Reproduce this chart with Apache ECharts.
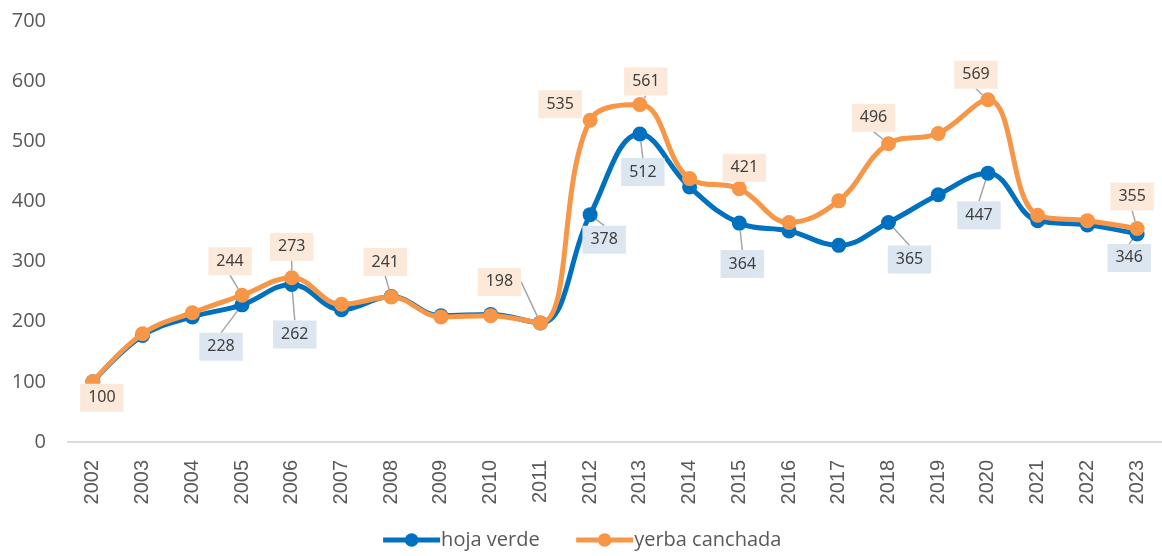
<!DOCTYPE html>
<html>
<head>
<meta charset="utf-8">
<script src="https://cdn.jsdelivr.net/npm/echarts@6/dist/echarts.min.js"></script>
<style>
  html, body { margin: 0; padding: 0; background: #fff; }
  #chart { width: 1162px; height: 556px; }
</style>
</head>
<body>
<div id="chart"></div>
<script>
var years = ['2002', '2003', '2004', '2005', '2006', '2007', '2008', '2009', '2010', '2011', '2012',
             '2013', '2014', '2015', '2016', '2017', '2018', '2019', '2020', '2021', '2022', '2023'];
var hojaVerde = [100, 177, 208, 228, 262, 220, 242, 210, 212, 198, 378,
                 512, 424, 364, 351, 327, 365, 411, 447, 368, 361, 346];
var yerbaCanchada = [100, 180, 215, 244, 273, 229, 241, 208, 210, 198, 535,
                     561, 438, 421, 365, 401, 496, 513, 569, 377, 368, 355];
var yTicks = [0, 100, 200, 300, 400, 500, 600, 700];

// which points carry a value label
var hojaLabeled = ['2005', '2006', '2012', '2013', '2015', '2018', '2020', '2023'];
var yerbaLabeled = ['2002', '2005', '2006', '2008', '2011', '2012', '2013', '2015', '2018', '2020', '2023'];

/* label offsets from the point (layout only) */
var hojaOffset = {
    '2005': [-21, 42], '2006': [3, 50], '2012': [14, 25], '2013': [3, 38],
    '2015': [3, 41], '2018': [21, 37], '2020': [-9, 42], '2023': [-8, 24]
};
var yerbaOffset = {
    '2002': [9, 16], '2005': [-12, -34], '2006': [0, -31], '2008': [-6, -35],
    '2011': [-41, -41], '2012': [-30, -16], '2013': [6, -23], '2015': [5, -21],
    '2018': [-15, -26], '2020': [-12, -25], '2023': [-5, -32]
};
var noLeader = { '2002': true, '2012': true };

var blue = '#0070C0';
var orange = '#F79646';

function buildData(values, labeled, bg) {
    return values.map(function (v, i) {
        var item = { value: v };
        if (labeled.indexOf(years[i]) >= 0) {
            item.label = {
                show: true,
                position: 'inside',
                backgroundColor: bg,
                color: '#404040',
                fontFamily: 'Noto Sans',
                fontSize: 16,
                padding: [6, 8]
            };
        }
        return item;
    });
}

function layoutFor(offsets) {
    return function (params) {
        var o = offsets[years[params.dataIndex]];
        if (!o) return {};
        return { dx: o[0], dy: o[1] };
    };
}

var chart = echarts.init(document.getElementById('chart'));
var option = {
    animation: false,
    textStyle: { fontFamily: 'Open Sans' },
    grid: { left: 68, width: 1100, top: 21, bottom: 114 },
    legend: {
        bottom: 1,
        left: 'center',
        itemWidth: 57,
        itemHeight: 17,
        itemGap: 34,
        lineStyle: { width: 5 },
        textStyle: { fontSize: 20, color: '#595959', fontFamily: 'Open Sans', padding: [0, 0, 0, -4] },
        data: ['hoja verde', 'yerba canchada']
    },
    xAxis: {
        type: 'category',
        data: years,
        boundaryGap: true,
        axisLine: { lineStyle: { color: '#D9D9D9', width: 2 } },
        axisTick: { show: false },
        axisLabel: {
            rotate: 90,
            margin: 18,
            fontSize: 20,
            color: '#595959',
            fontFamily: 'Liberation Sans',
            interval: 0
        }
    },
    yAxis: {
        type: 'value',
        min: yTicks[0],
        max: yTicks[yTicks.length - 1],
        interval: 100,
        axisLine: { show: false },
        axisTick: { show: false },
        splitLine: { show: false },
        axisLabel: { fontSize: 20, color: '#595959', margin: 22, fontFamily: 'Open Sans' }
    },
    series: [
        {
            name: 'hoja verde',
            type: 'line',
            smooth: 0.4,
            symbol: 'circle',
            symbolSize: 15,
            data: buildData(hojaVerde, hojaLabeled, '#DCE6F1'),
            itemStyle: { color: blue },
            lineStyle: { color: blue, width: 5 },
            labelLayout: layoutFor(hojaOffset),
            labelLine: { show: true, lineStyle: { color: '#A6A6A6', width: 1.5 } },
            z: 2
        },
        {
            name: 'yerba canchada',
            type: 'line',
            smooth: 0.4,
            symbol: 'circle',
            symbolSize: 15,
            data: buildData(yerbaCanchada, yerbaLabeled, '#FDE9D9').map(function (d, i) {
                if (noLeader[years[i]]) d.labelLine = { show: false };
                return d;
            }),
            itemStyle: { color: orange },
            lineStyle: { color: orange, width: 5 },
            labelLayout: layoutFor(yerbaOffset),
            labelLine: { show: true, lineStyle: { color: '#A6A6A6', width: 1.5 } },
            z: 3
        }
    ]
};
chart.setOption(option);
</script>
</body>
</html>
